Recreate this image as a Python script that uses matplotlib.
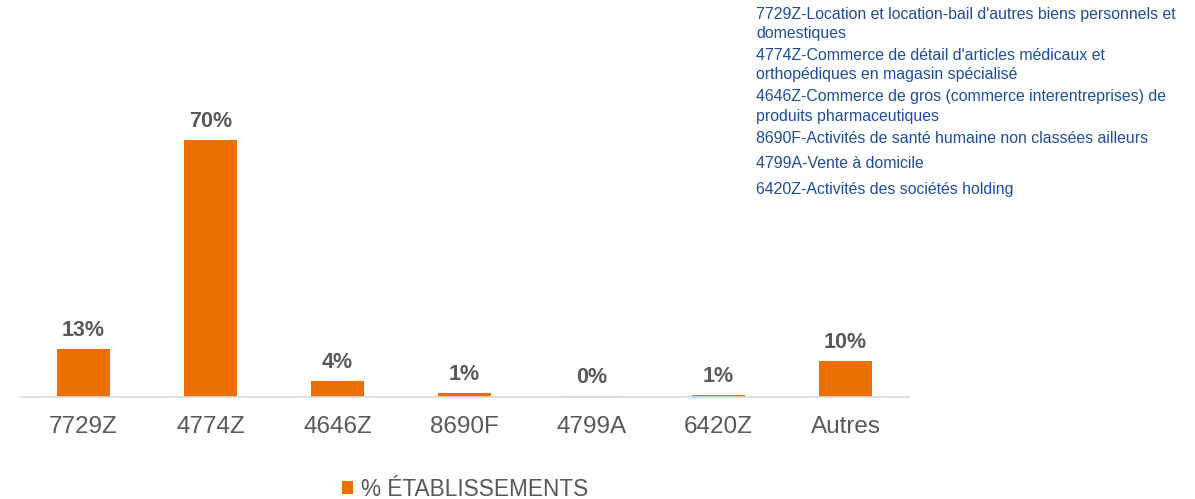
import matplotlib.pyplot as plt

plt.rcParams["font.family"] = ["Liberation Sans", "DejaVu Sans"]

# data
codes = ["7729Z", "4774Z", "4646Z", "8690F", "4799A", "6420Z", "Autres"]
shares = [13.1, 70.0, 4.4, 1.1, 0.3, 0.5, 9.8]
value_labels = ["13%", "70%", "4%", "1%", "0%", "1%", "10%"]
descriptions = [
    "7729Z-Location et location-bail d'autres biens personnels et\ndomestiques",
    "4774Z-Commerce de détail d'articles médicaux et\northopédiques en magasin spécialisé",
    "4646Z-Commerce de gros (commerce interentreprises) de\nproduits pharmaceutiques",
    "8690F-Activités de santé humaine non classées ailleurs",
    "4799A-Vente à domicile",
    "6420Z-Activités des sociétés holding",
]
series_name = "% ÉTABLISSEMENTS"

orange = "#EC7000"
grey = "#595959"
blue = "#1F4E99"

fig = plt.figure(figsize=(11.95, 4.99), dpi=100)
ax = fig.add_axes([20 / 1195, 1 - 397 / 499, 889 / 1195, 367 / 499])

colors = [orange] * len(codes)
colors[4] = "#F6D3B5"  # the near-zero bar is drawn pale
bars = ax.bar(range(len(codes)), shares, width=0.41, color=colors, label=series_name)

for i, (v, lab) in enumerate(zip(shares, value_labels)):
    ax.annotate(lab, (i, v), xytext=(0, 6), textcoords="offset points",
                ha="center", va="bottom", fontsize=15.5, fontweight="bold", color=grey)

ax.set_xlim(-0.5, len(codes) - 0.5)
ax.set_ylim(0, 100)
ax.set_xticks(range(len(codes)))
ax.set_xticklabels(codes, fontsize=17.5, color=grey)
ax.tick_params(axis="x", length=0, pad=14)
ax.set_yticks([])
for side in ["left", "right", "top"]:
    ax.spines[side].set_visible(False)
ax.spines["bottom"].set_color("#D9D9D9")
ax.spines["bottom"].set_linewidth(1.2)

# legend below the plot
leg = fig.legend(handles=[bars.patches[0]], labels=[series_name], loc="center",
                 bbox_to_anchor=(465 / 1195, 1 - 489 / 499), frameon=False,
                 fontsize=16.3, handlelength=0.5, handleheight=0.5, handletextpad=0.35)
for t in leg.get_texts():
    t.set_color(grey)

# code descriptions at top right, one text per line
y = 14
for d in descriptions:
    lines = d.split("\n")
    for k, line in enumerate(lines):
        fig.text(756 / 1195, 1 - y / 499, line, fontsize=11.4, color=blue,
                 va="center", ha="left")
        if k < len(lines) - 1:
            y += 19.5
    y += 22 if len(lines) > 1 else 25.5

fig.savefig("out.png", dpi=100)
